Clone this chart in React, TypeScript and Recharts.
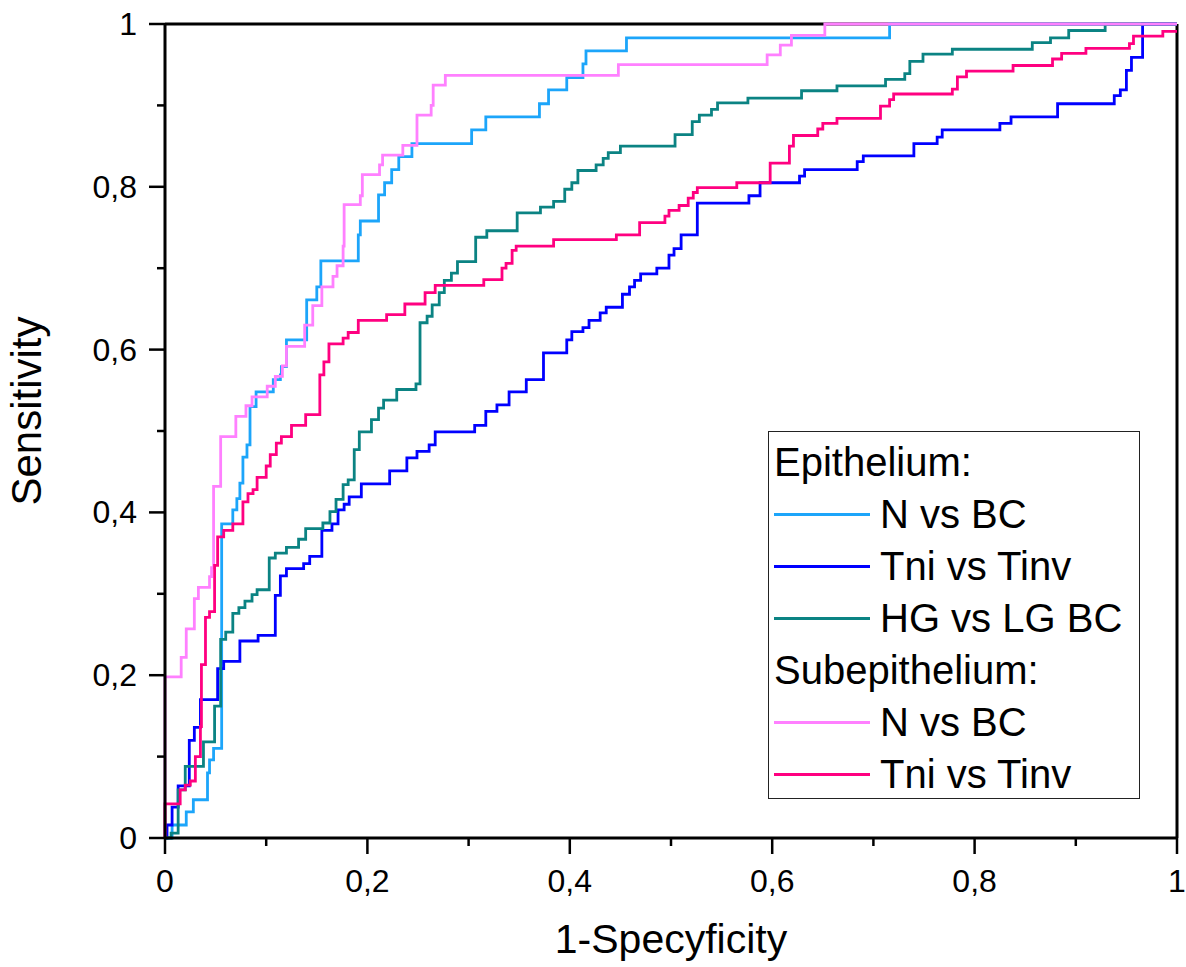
import React from 'react';
import { LineChart, Line, XAxis, YAxis, Legend, ReferenceLine } from 'recharts';

// ROC curves as [1-specificity, sensitivity]; each point is where the step jumps to
const epiNvsBC: [number, number][] = [
  [0, 0], [0.007, 0.016], [0.021, 0.032], [0.028, 0.047], [0.042, 0.08], [0.044, 0.096],
  [0.048, 0.11], [0.056, 0.386], [0.067, 0.403], [0.071, 0.417], [0.074, 0.436],
  [0.077, 0.468], [0.081, 0.483], [0.084, 0.53], [0.09, 0.548], [0.107, 0.563],
  [0.114, 0.569], [0.115, 0.579], [0.12, 0.612], [0.14, 0.661], [0.15, 0.677],
  [0.154, 0.709], [0.191, 0.741], [0.193, 0.758], [0.211, 0.79], [0.217, 0.805],
  [0.224, 0.821], [0.231, 0.837], [0.244, 0.853], [0.303, 0.87], [0.317, 0.886],
  [0.37, 0.902], [0.379, 0.919], [0.397, 0.934], [0.413, 0.951], [0.416, 0.967],
  [0.456, 0.983], [0.716, 1], [1, 1]
];

const epiTniVsTinv: [number, number][] = [
  [0, 0], [0.002, 0.016], [0.007, 0.038], [0.013, 0.064], [0.024, 0.12], [0.029, 0.136],
  [0.035, 0.17], [0.052, 0.208], [0.058, 0.217], [0.074, 0.242], [0.092, 0.249],
  [0.109, 0.298], [0.114, 0.322], [0.12, 0.331], [0.137, 0.337], [0.143, 0.346],
  [0.155, 0.378], [0.165, 0.386], [0.171, 0.403], [0.177, 0.41], [0.182, 0.419],
  [0.194, 0.435], [0.222, 0.451], [0.239, 0.467], [0.249, 0.475], [0.261, 0.483],
  [0.267, 0.499], [0.306, 0.507], [0.317, 0.524], [0.328, 0.532], [0.34, 0.548],
  [0.357, 0.563], [0.374, 0.596], [0.397, 0.612], [0.402, 0.622], [0.413, 0.627],
  [0.419, 0.636], [0.43, 0.645], [0.436, 0.652], [0.452, 0.668], [0.459, 0.677],
  [0.464, 0.685], [0.47, 0.693], [0.486, 0.7], [0.498, 0.716], [0.503, 0.724],
  [0.51, 0.741], [0.526, 0.78], [0.577, 0.789], [0.588, 0.805], [0.627, 0.813],
  [0.632, 0.821], [0.684, 0.831], [0.69, 0.838], [0.74, 0.853], [0.763, 0.861],
  [0.768, 0.87], [0.825, 0.878], [0.836, 0.886], [0.882, 0.902], [0.938, 0.912],
  [0.944, 0.919], [0.95, 0.943], [0.955, 0.959], [0.966, 1], [1, 1]
];

const epiHGvsLG: [number, number][] = [
  [0, 0], [0.006, 0.006], [0.013, 0.059], [0.02, 0.088], [0.038, 0.118], [0.049, 0.162],
  [0.055, 0.244], [0.06, 0.253], [0.067, 0.276], [0.073, 0.283], [0.079, 0.291],
  [0.086, 0.299], [0.091, 0.305], [0.103, 0.344], [0.109, 0.35], [0.12, 0.357],
  [0.132, 0.367], [0.139, 0.38], [0.156, 0.387], [0.163, 0.401], [0.169, 0.416],
  [0.176, 0.434], [0.181, 0.44], [0.187, 0.477], [0.192, 0.499], [0.204, 0.514],
  [0.211, 0.528], [0.216, 0.538], [0.229, 0.551], [0.248, 0.558], [0.252, 0.633],
  [0.259, 0.641], [0.264, 0.655], [0.271, 0.67], [0.276, 0.685], [0.283, 0.694],
  [0.289, 0.708], [0.307, 0.738], [0.318, 0.746], [0.348, 0.768], [0.371, 0.775],
  [0.384, 0.782], [0.395, 0.797], [0.402, 0.805], [0.408, 0.82], [0.426, 0.827],
  [0.433, 0.835], [0.438, 0.842], [0.45, 0.85], [0.504, 0.864], [0.521, 0.88],
  [0.528, 0.888], [0.54, 0.895], [0.546, 0.903], [0.576, 0.909], [0.629, 0.918],
  [0.664, 0.924], [0.712, 0.932], [0.731, 0.939], [0.736, 0.954], [0.749, 0.963],
  [0.778, 0.969], [0.857, 0.977], [0.875, 0.983], [0.893, 0.992], [0.929, 1], [1, 1]
];

const subNvsBC: [number, number][] = [
  [0, 0], [0, 0.198], [0.016, 0.222], [0.021, 0.257], [0.029, 0.294], [0.033, 0.308],
  [0.044, 0.321], [0.046, 0.332], [0.048, 0.432], [0.055, 0.493], [0.07, 0.518],
  [0.08, 0.531], [0.086, 0.542], [0.101, 0.555], [0.109, 0.567], [0.116, 0.58],
  [0.12, 0.604], [0.138, 0.63], [0.146, 0.654], [0.155, 0.677], [0.166, 0.69],
  [0.17, 0.703], [0.176, 0.727], [0.177, 0.778], [0.193, 0.789], [0.195, 0.815],
  [0.212, 0.827], [0.215, 0.839], [0.235, 0.851], [0.249, 0.888], [0.263, 0.9],
  [0.265, 0.925], [0.277, 0.937], [0.448, 0.95], [0.595, 0.962], [0.608, 0.974],
  [0.619, 0.986], [0.652, 1], [1, 1]
];

const subTniVsTinv: [number, number][] = [
  [0, 0], [0, 0.042], [0.015, 0.059], [0.02, 0.065], [0.025, 0.07], [0.03, 0.1],
  [0.035, 0.137], [0.036, 0.213], [0.04, 0.271], [0.044, 0.278], [0.049, 0.335],
  [0.052, 0.37], [0.058, 0.378], [0.067, 0.386], [0.077, 0.413], [0.082, 0.423],
  [0.087, 0.428], [0.091, 0.443], [0.1, 0.457], [0.104, 0.471], [0.11, 0.485],
  [0.115, 0.493], [0.125, 0.507], [0.139, 0.52], [0.153, 0.569], [0.157, 0.585],
  [0.162, 0.607], [0.176, 0.614], [0.181, 0.621], [0.191, 0.636], [0.219, 0.643],
  [0.237, 0.656], [0.257, 0.67], [0.267, 0.679], [0.315, 0.686], [0.333, 0.7],
  [0.337, 0.706], [0.343, 0.722], [0.347, 0.727], [0.384, 0.735], [0.446, 0.741],
  [0.469, 0.756], [0.494, 0.764], [0.498, 0.771], [0.508, 0.777], [0.517, 0.786],
  [0.522, 0.793], [0.526, 0.799], [0.565, 0.805], [0.598, 0.829], [0.617, 0.85],
  [0.621, 0.863], [0.645, 0.871], [0.65, 0.878], [0.664, 0.884], [0.707, 0.899],
  [0.716, 0.907], [0.72, 0.914], [0.778, 0.92], [0.783, 0.935], [0.792, 0.942],
  [0.838, 0.949], [0.877, 0.957], [0.886, 0.964], [0.91, 0.97], [0.953, 0.976],
  [0.957, 0.985], [0.986, 0.991], [1, 0.991]
];

const tickValues = [0, 0.1, 0.2, 0.3, 0.4, 0.5, 0.6, 0.7, 0.8, 0.9, 1];
const tickLabels = ['0', '', '0,2', '', '0,4', '', '0,6', '', '0,8', '', '1'];

const series = [
  { key: 'epiN', group: 'Epithelium:', name: 'N vs BC', color: '#1CA5FA', points: epiNvsBC },
  { key: 'epiT', group: 'Epithelium:', name: 'Tni vs Tinv', color: '#0000FF', points: epiTniVsTinv },
  { key: 'epiHG', group: 'Epithelium:', name: 'HG vs LG BC', color: '#0B8383', points: epiHGvsLG },
  { key: 'subN', group: 'Subepithelium:', name: 'N vs BC', color: '#FF80FF', points: subNvsBC },
  { key: 'subT', group: 'Subepithelium:', name: 'Tni vs Tinv', color: '#FF0080', points: subTniVsTinv }
];

const FONT = '"Liberation Sans", Arial, sans-serif';

const labelFor = (v: number) => tickLabels[tickValues.indexOf(v)] ?? '';

const XTick = (props: any) => {
  const { x, y, payload } = props;
  const label = labelFor(payload.value);
  const major = label !== '';
  return (
    <g>
      <line x1={x} x2={x} y1={y} y2={y + (major ? 16 : 8)} stroke="#000" strokeWidth={2.5} />
      {major && (
        <text x={x} y={y + 54} textAnchor="middle" fontSize={32} fontFamily={FONT} fill="#000">
          {label}
        </text>
      )}
    </g>
  );
};

const YTick = (props: any) => {
  const { x, y, payload } = props;
  const label = labelFor(payload.value);
  const major = label !== '';
  return (
    <g>
      <line x1={x - (major ? 16 : 8)} x2={x} y1={y} y2={y} stroke="#000" strokeWidth={2.5} />
      {major && (
        <text x={x - 28} y={y + 11} textAnchor="end" fontSize={32} fontFamily={FONT} fill="#000">
          {label}
        </text>
      )}
    </g>
  );
};

const XTitle = (props: any) => {
  const vb = props.viewBox ?? { x: 165, y: 838, width: 1012, height: 60 };
  return (
    <text x={vb.x + vb.width / 2} y={953} textAnchor="middle" fontSize={41} fontFamily={FONT} fill="#000">
      1-Specyficity
    </text>
  );
};

const YTitle = () => (
  <text
    x={41}
    y={411}
    transform="rotate(-90 41 411)"
    textAnchor="middle"
    fontSize={42}
    fontFamily={FONT}
    fill="#000"
  >
    Sensitivity
  </text>
);

const RocLegend = () => {
  const rows: React.ReactNode[] = [];
  let lastGroup = '';
  series.forEach((s) => {
    if (s.group !== lastGroup) {
      rows.push(
        <div key={s.group} style={{ height: 52, lineHeight: '52px', paddingLeft: 5 }}>
          {s.group}
        </div>
      );
      lastGroup = s.group;
    }
    rows.push(
      <div key={s.key} style={{ height: 52, display: 'flex', alignItems: 'center', paddingLeft: 5 }}>
        <div style={{ width: 96, height: 3, background: s.color, marginRight: 10 }} />
        <span style={{ lineHeight: '52px' }}>{s.name}</span>
      </div>
    );
  });
  return (
    <div
      style={{
        width: 372,
        height: 368,
        boxSizing: 'border-box',
        border: '1.5px solid #222',
        background: '#fff',
        fontFamily: FONT,
        fontSize: 40,
        color: '#000',
        paddingTop: 4
      }}
    >
      {rows}
    </div>
  );
};

export default function App() {
  const lines = series.map((s) => ({
    ...s,
    data: s.points.map(([fpr, tpr]) => ({ fpr, tpr }))
  }));

  return (
    <div style={{ position: 'absolute', left: 0, top: 0, width: 1186, height: 967, background: '#fff' }}>
      <LineChart width={1186} height={967} margin={{ top: 24, right: 9, bottom: 69, left: 65 }}>
        <XAxis
          type="number"
          dataKey="fpr"
          domain={[0, 1]}
          ticks={tickValues}
          interval={0}
          height={60}
          tickSize={0}
          tickMargin={0}
          tick={<XTick />}
          axisLine={{ stroke: '#000', strokeWidth: 3 }}
          label={<XTitle />}
        />
        <YAxis
          type="number"
          domain={[0, 1]}
          ticks={tickValues}
          interval={0}
          width={100}
          tickSize={0}
          tickMargin={0}
          tick={<YTick />}
          axisLine={{ stroke: '#000', strokeWidth: 3 }}
          label={<YTitle />}
        />
        <ReferenceLine y={1} stroke="#000" strokeWidth={3} />
        <ReferenceLine x={1} stroke="#000" strokeWidth={3} />
        {lines.map((s) => (
          <Line
            key={s.key}
            data={s.data}
            dataKey="tpr"
            name={s.name}
            type="stepAfter"
            stroke={s.color}
            strokeWidth={2.8}
            dot={false}
            activeDot={false}
            isAnimationActive={false}
          />
        ))}
        <Legend
          layout="vertical"
          align="center"
          verticalAlign="middle"
          content={<RocLegend />}
          wrapperStyle={{ left: 768, top: 431, width: 372 }}
        />
      </LineChart>
    </div>
  );
}
